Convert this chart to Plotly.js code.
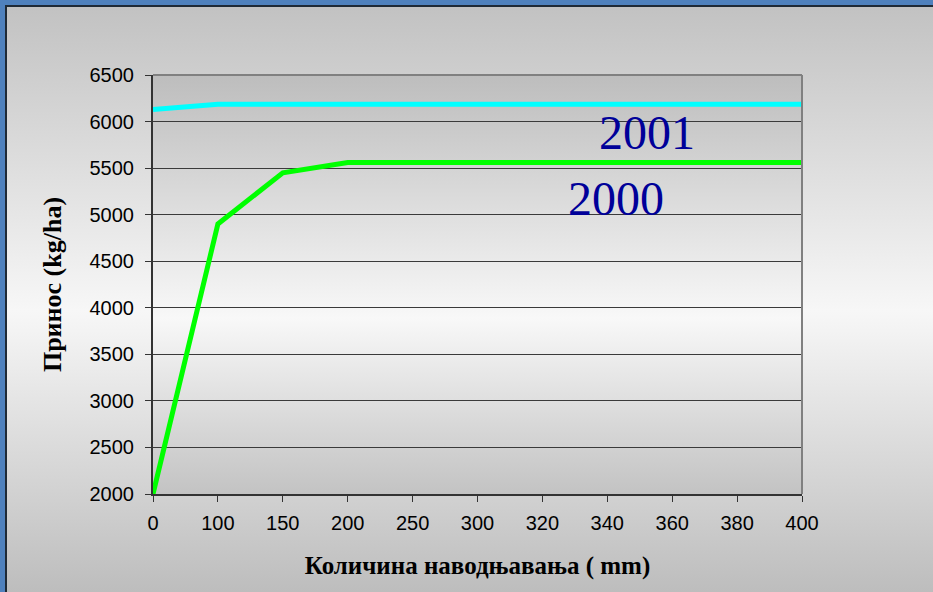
<!DOCTYPE html>
<html>
<head>
<meta charset="utf-8">
<script src="https://cdn.plot.ly/plotly-3.0.1.min.js"></script>
<style>
  html, body { margin: 0; padding: 0; }
  #frame { position: relative; width: 933px; height: 592px; background: #4f81bd; overflow: hidden; }
  #inner { position: absolute; left: 5px; top: 5px; right: 0; bottom: 0;
           border-left: 2px solid #1f2a36; border-top: 2px solid #1f2a36;
           background: linear-gradient(to bottom, #c2c2c2 0%, #f7f7f7 52%, #bdbdbd 100%); }
  #chart { position: absolute; left: 0; top: 0; width: 933px; height: 592px; }
</style>
</head>
<body>
<div id="frame"><div id="inner"></div><div id="chart"></div></div>
<script>
const categories = ['0','100','150','200','250','300','320','340','360','380','400'];
const yield2001 = [6130, 6185, 6185, 6185, 6185, 6185, 6185, 6185, 6185, 6185, 6185];
const yield2000 = [2000, 4900, 5450, 5560, 5560, 5560, 5560, 5560, 5560, 5560, 5560];
const seriesNames = ['2001', '2000'];
const yTicks = [2000, 2500, 3000, 3500, 4000, 4500, 5000, 5500, 6000, 6500];

const plotGrad = 'data:image/svg+xml;utf8,' + encodeURIComponent(
  '<svg xmlns="http://www.w3.org/2000/svg" width="100" height="100" preserveAspectRatio="none">' +
  '<defs><linearGradient id="g" x1="0" y1="0" x2="0" y2="1">' +
  '<stop offset="0" stop-color="#bdbdbd"/><stop offset="0.58" stop-color="#f8f8f8"/>' +
  '<stop offset="1" stop-color="#c3c3c3"/></linearGradient></defs>' +
  '<rect width="100" height="100" fill="url(#g)"/></svg>');

const traces = [
  { x: categories, y: yield2001, name: seriesNames[0], type: 'scatter', mode: 'lines',
    line: { color: '#00ffff', width: 5 } },
  { x: categories, y: yield2000, name: seriesNames[1], type: 'scatter', mode: 'lines',
    line: { color: '#00ff00', width: 5 } }
];

const serif = 'Liberation Serif, Times New Roman, serif';
const sans = 'Liberation Sans, Arial, sans-serif';

const layout = {
  width: 933, height: 592,
  margin: { l: 153, r: 131, t: 75, b: 98 },
  paper_bgcolor: 'rgba(0,0,0,0)',
  plot_bgcolor: 'rgba(0,0,0,0)',
  showlegend: false,
  font: { family: sans, color: '#000' },
  images: [{ source: plotGrad, xref: 'paper', yref: 'paper', x: 0, y: 1, sizex: 1, sizey: 1,
             sizing: 'stretch', layer: 'below', xanchor: 'left', yanchor: 'top' }],
  xaxis: {
    type: 'category', range: [0, categories.length - 1],
    showgrid: false, zeroline: false,
    showline: true, linecolor: '#333', linewidth: 2,
    ticks: 'outside', ticklen: 6, tickcolor: '#333', tickwidth: 1,
    ticklabelstandoff: 4,
    tickfont: { size: 20, family: sans },
    title: { text: 'Количина наводњавања ( mm)', standoff: 23,
             font: { size: 25, family: serif, weight: 'bold' } }
  },
  yaxis: {
    range: [2000, 6500], tickvals: yTicks, ticktext: yTicks.map(String),
    showgrid: true, gridcolor: '#3a3a3a', gridwidth: 1, zeroline: false,
    showline: true, linecolor: '#333', linewidth: 2,
    ticks: 'outside', ticklen: 6, tickcolor: '#333', tickwidth: 1,
    ticklabelstandoff: 7,
    tickfont: { size: 20, family: sans },
    title: { text: 'Принос (kg/ha)', standoff: 20,
             font: { size: 26, family: serif, weight: 'bold' } }
  },
  shapes: [
    { type: 'line', xref: 'paper', yref: 'paper', x0: 0, x1: 1, y0: 1, y1: 1,
      line: { color: '#808080', width: 2 } },
    { type: 'line', xref: 'paper', yref: 'paper', x0: 1, x1: 1, y0: 0, y1: 1,
      line: { color: '#808080', width: 2 } }
  ],
  annotations: [
    { text: seriesNames[0], xref: 'paper', yref: 'paper', x: 0.761, y: 0.862,
      xanchor: 'center', yanchor: 'middle',
      showarrow: false, font: { family: serif, size: 48, color: '#000099' } },
    { text: seriesNames[1], xref: 'paper', yref: 'paper', x: 0.713, y: 0.706,
      xanchor: 'center', yanchor: 'middle',
      showarrow: false, font: { family: serif, size: 48, color: '#000099' } }
  ]
};

Plotly.newPlot('chart', traces, layout, { displayModeBar: false, staticPlot: true });
</script>
</body>
</html>
